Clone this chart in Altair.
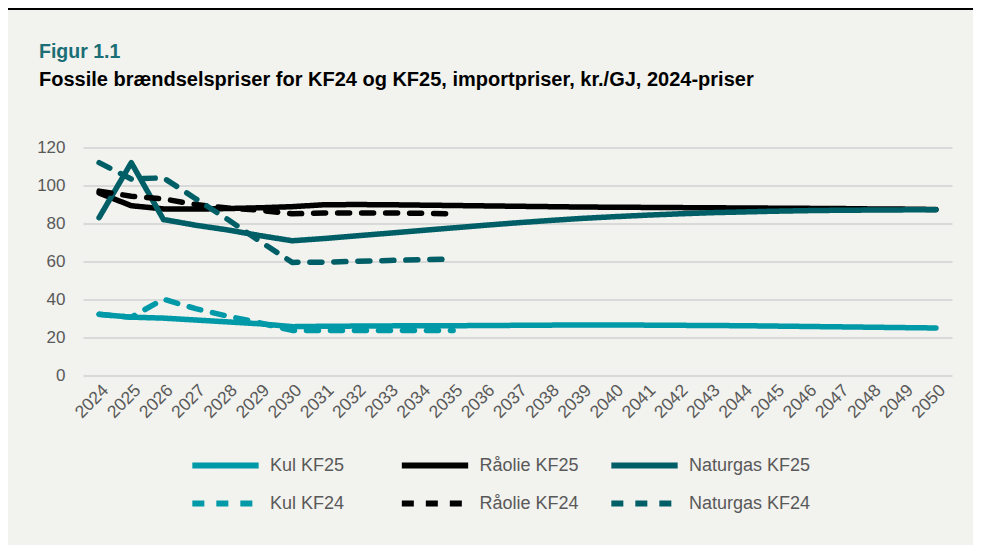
import altair as alt
import pandas as pd

years = list(range(2024, 2051))

kul_kf25 = [32, 30.5, 30, 29, 28, 27, 25.5, 25.7, 25.8, 25.9, 26, 26, 26.1, 26.2,
            26.3, 26.4, 26.4, 26.3, 26.2, 26.1, 26, 25.8, 25.6, 25.4, 25.2, 25, 24.8]
raolie_kf25 = [96, 89.3, 87.6, 87.5, 87.8, 88.2, 88.8, 89.8, 89.9, 89.8, 89.6, 89.4,
               89.2, 89, 88.8, 88.6, 88.5, 88.4, 88.3, 88.2, 88.1, 88, 87.9, 87.8,
               87.6, 87.5, 87.3]
naturgas_kf25 = [83, 112, 82, 79, 76.5, 73.5, 70.8, 72, 73.4, 74.8, 76.2, 77.6, 79,
                 80.3, 81.5, 82.6, 83.5, 84.3, 85, 85.6, 86, 86.4, 86.7, 86.9, 87,
                 87.1, 87.2]
kul_kf24 = [32, 30.5, 40, 35, 31, 27.5, 23.5, 23.5, 23.5, 23.5, 23.5, 23.5]
raolie_kf24 = [97, 94.3, 92.9, 89.9, 88.1, 86.9, 85, 85.5, 85.5, 85.5, 85.3, 85]
naturgas_kf24 = [112, 103.4, 104, 93, 82, 70.5, 59.4, 59.5, 60, 60.4, 60.8, 61.1]

series_names = ["Kul KF25", "Råolie KF25", "Naturgas KF25",
                "Kul KF24", "Råolie KF24", "Naturgas KF24"]
series_values = [kul_kf25, raolie_kf25, naturgas_kf25,
                 kul_kf24, raolie_kf24, naturgas_kf24]
series_colors = ["#0099A8", "#000000", "#005F66", "#0099A8", "#000000", "#005F66"]
series_dash = [[1, 0], [1, 0], [1, 0], [12, 12], [12, 12], [12, 12]]

y_ticks = [0, 20, 40, 60, 80, 100, 120]

title_text = "Figur 1.1"
subtitle_text = "Fossile brændselspriser for KF24 og KF25, importpriser, kr./GJ, 2024-priser"

rows = []
for name, vals in zip(series_names, series_values):
    for yr, v in zip(years, vals):
        rows.append({"year": str(yr), "value": v, "series": name})
df = pd.DataFrame(rows)

PW, PH = 869, 227.5
PL, PT = 75, 139.5
TOTAL_W, TOTAL_H = 965, 537

lines = alt.Chart(df).mark_line(strokeWidth=5.5, strokeCap="round", strokeJoin="round").encode(
    x=alt.X("year:O", sort=[str(y) for y in years],
            scale=alt.Scale(type="point", padding=0.5),
            axis=alt.Axis(title=None, labelAngle=-45, labelFontSize=17.5,
                          labelColor="#595959", labelFont="Liberation Sans",
                          domain=False, ticks=False, grid=False, labelPadding=6)),
    y=alt.Y("value:Q", scale=alt.Scale(domain=[0, 120], nice=False),
            axis=alt.Axis(title=None, values=y_ticks, labelFontSize=17,
                          labelColor="#595959", labelFont="Liberation Sans",
                          domain=False, ticks=False, grid=True, gridColor="#D9D9D9",
                          gridWidth=2, labelPadding=18)),
    color=alt.Color("series:N",
                    scale=alt.Scale(domain=series_names, range=series_colors),
                    legend=alt.Legend(title=None, orient="none", legendX=106, legendY=309,
                                      columns=3, direction="horizontal",
                                      symbolType="stroke", symbolSize=4400,
                                      symbolStrokeWidth=6, labelFontSize=18,
                                      labelFont="Liberation Sans", labelColor="#595959",
                                      labelOffset=8, rowPadding=20, columnPadding=6.5,
                                      clipHeight=18,
                                      gridAlign="all", padding=0, labelLimit=300)),
    strokeDash=alt.StrokeDash("series:N",
                              scale=alt.Scale(domain=series_names, range=series_dash),
                              legend=alt.Legend(title=None)),
    order=alt.Order("series:N"),
)

title_df = pd.DataFrame({"t": [title_text]})
subtitle_df = pd.DataFrame({"t": [subtitle_text]})

title_mark = alt.Chart(title_df).mark_text(
    align="left", baseline="alphabetic", font="Liberation Sans", fontSize=19.5,
    fontWeight="bold", color="#1B6E75"
).encode(text="t:N", x=alt.value(-44), y=alt.value(58 - 147.5))

subtitle_mark = alt.Chart(subtitle_df).mark_text(
    align="left", baseline="alphabetic", font="Liberation Sans", fontSize=20,
    fontWeight="bold", color="#000000"
).encode(text="t:N", x=alt.value(-44), y=alt.value(86 - 147.5))

top_line = alt.Chart(pd.DataFrame({"a": [0]})).mark_rule(color="#000000", strokeWidth=2).encode(
    x=alt.value(-PL - 8), x2=alt.value(TOTAL_W), y=alt.value(-PT + 1)
)

chart = alt.layer(lines, top_line, title_mark, subtitle_mark).properties(
    width=PW, height=PH,
    padding={"left": PL, "top": PT, "right": TOTAL_W - PL - PW, "bottom": TOTAL_H - PT - PH},
    autosize=alt.AutoSizeParams(type="none"),
    background="#F2F2EE",
).configure_view(stroke=None)

chart.save("out.html", embed_options={"renderer": "svg", "actions": False})
